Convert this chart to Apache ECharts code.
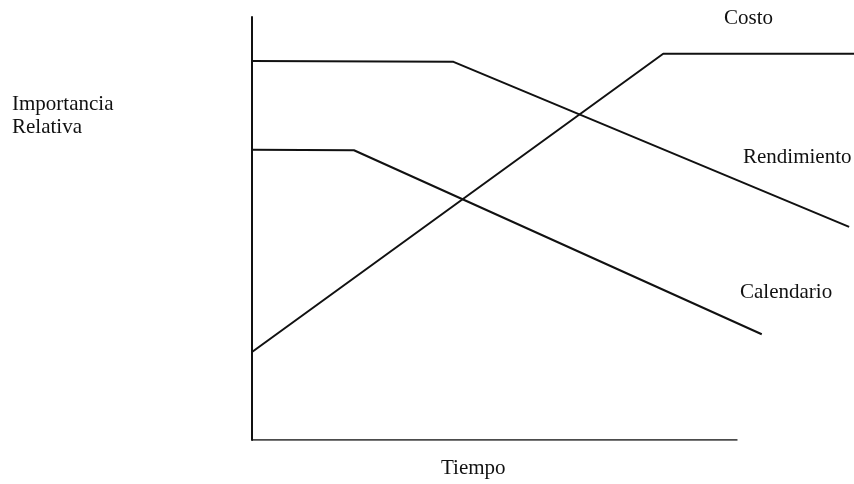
<!DOCTYPE html>
<html>
<head>
<meta charset="utf-8">
<script src="https://cdn.jsdelivr.net/npm/echarts@6/dist/echarts.min.js"></script>
<style>
  html, body { margin: 0; padding: 0; background: #fff; }
  #graph { width: 854px; height: 484px; }
</style>
</head>
<body>
<div id="graph"></div>
<script>
"use strict"

// tiempo (0-100 = longitud del eje X dibujado), importancia (0-100 = altura del eje Y)
const rendimiento = [[0, 89.6], [41.5, 89.4], [123, 50.4]];
const calendario = [[0, 68.6], [21, 68.5], [105, 25]];
const costo = [[0, 20.8], [84.7, 91.3], [124, 91.3]];
const ejeTiempo = [[0, 0], [100, 0]];

const seriesNames = ["Rendimiento", "Calendario", "Costo"];
const axisNames = ["Tiempo", "Importancia\nRelativa"];

const ink = "#111";
const font = "'Liberation Serif', 'Times New Roman', serif";

const lineOf = (name, data, width) => ({
    name: name,
    type: "line",
    data: data,
    symbol: "none",
    lineStyle: { color: ink, width: width },
    animation: false
});

const txt = (text, left, top) => ({
    type: "text",
    left: left,
    top: top,
    style: { text: text, font: `21px ${font}`, fill: ink, lineHeight: 23 }
});

const myChart = echarts.init(document.getElementById("graph"), null, { renderer: "canvas" });

const option = {
    backgroundColor: "#fff",
    animation: false,
    grid: { left: 252, right: 0, top: 17, bottom: 44 },
    xAxis: {
        type: "value",
        min: 0,
        max: 124,
        axisLine: { show: false },
        axisTick: { show: false },
        axisLabel: { show: false },
        splitLine: { show: false }
    },
    yAxis: {
        type: "value",
        min: 0,
        max: 100,
        axisLine: { show: true, lineStyle: { color: ink, width: 2 } },
        axisTick: { show: false },
        axisLabel: { show: false },
        splitLine: { show: false }
    },
    series: [
        lineOf(axisNames[0], ejeTiempo, 1.5),
        lineOf(seriesNames[0], rendimiento, 2),
        lineOf(seriesNames[1], calendario, 2),
        lineOf(seriesNames[2], costo, 2)
    ],
    graphic: [
        txt(axisNames[1], 12, 93),
        txt(axisNames[0], 441, 457),
        txt(seriesNames[2], 724, 7),
        txt(seriesNames[0], 743, 146),
        txt(seriesNames[1], 740, 281)
    ]
};
myChart.setOption(option);
</script>
</body>
</html>
